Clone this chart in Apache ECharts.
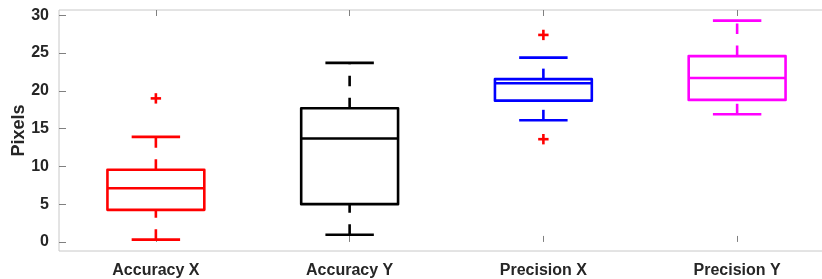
<!DOCTYPE html>
<html>
<head>
<meta charset="utf-8">
<script src="https://cdn.jsdelivr.net/npm/echarts@6/dist/echarts.min.js"></script>
<style>html,body{margin:0;padding:0;background:#fff}#c{width:822px;height:279px}</style>
</head>
<body>
<div id="c"></div>
<script>
var categories = ['Accuracy X', 'Accuracy Y', 'Precision X', 'Precision Y'];
var whiskerLow  = [0.3, 0.95, 16.1, 16.9];
var q1          = [4.25, 5.0, 18.7, 18.8];
var medians     = [7.1, 13.7, 21.0, 21.7];
var q3          = [9.55, 17.7, 21.55, 24.6];
var whiskerHigh = [13.9, 23.7, 24.4, 29.3];
var outlierCat  = [0, 2, 2];
var outlierVal  = [19.0, 27.4, 13.6];
var yTicks      = [0, 5, 10, 15, 20, 25, 30];
var boxColors   = ['#ff0000', '#000000', '#0000ff', '#ff00ff'];

var boxData = categories.map(function (c, i) {
  return [i, whiskerLow[i], q1[i], medians[i], q3[i], whiskerHigh[i]];
});
var outData = outlierCat.map(function (c, i) { return [c, outlierVal[i]]; });

var LW = 2.6;
function renderBox(params, api) {
  var i = api.value(0);
  var band = api.size([1, 0])[0];
  var col = boxColors[i];
  var pLow = api.coord([i, api.value(1)]);
  var pQ1 = api.coord([i, api.value(2)]);
  var pMed = api.coord([i, api.value(3)]);
  var pQ3 = api.coord([i, api.value(4)]);
  var pHigh = api.coord([i, api.value(5)]);
  var cx = pMed[0];
  var bw = band * 0.5, cw = band * 0.25;
  var solid = {stroke: col, lineWidth: LW, fill: null, lineJoin: 'round'};
  var dashed = {stroke: col, lineWidth: LW, lineDash: [10.5, 11.5], lineCap: 'butt'};
  return {
    type: 'group',
    children: [
      {type: 'line', shape: {x1: cx, y1: pLow[1], x2: cx, y2: pQ1[1]}, style: dashed},
      {type: 'line', shape: {x1: cx, y1: pQ3[1], x2: cx, y2: pHigh[1]}, style: dashed},
      {type: 'line', shape: {x1: cx - cw / 2, y1: pLow[1], x2: cx + cw / 2, y2: pLow[1]}, style: solid},
      {type: 'line', shape: {x1: cx - cw / 2, y1: pHigh[1], x2: cx + cw / 2, y2: pHigh[1]}, style: solid},
      {type: 'rect', shape: {x: cx - bw / 2, y: pQ3[1], width: bw, height: pQ1[1] - pQ3[1]}, style: solid},
      {type: 'line', shape: {x1: cx - bw / 2, y1: pMed[1], x2: cx + bw / 2, y2: pMed[1]}, style: solid}
    ]
  };
}
function renderOutlier(params, api) {
  var p = api.coord([api.value(0), api.value(1)]);
  var s = 5.2;
  var st = {stroke: '#ff0000', lineWidth: 2.6};
  return {
    type: 'group',
    children: [
      {type: 'line', shape: {x1: p[0] - s, y1: p[1], x2: p[0] + s, y2: p[1]}, style: st},
      {type: 'line', shape: {x1: p[0], y1: p[1] - s, x2: p[0], y2: p[1] + s}, style: st}
    ]
  };
}

var chart = echarts.init(document.getElementById('c'), null, {renderer: 'canvas'});
chart.setOption({
  animation: false,
  grid: {left: 59, top: 10, width: 775, height: 241, show: true, borderColor: '#c8c8c8', borderWidth: 1, backgroundColor: 'transparent', containLabel: false, outerBoundsMode: 'none'},
  xAxis: [{
    type: 'category', data: categories, position: 'bottom', boundaryGap: true,
    axisLine: {show: false},
    axisTick: {show: true, inside: true, alignWithLabel: true, length: 6, lineStyle: {color: '#808080'}},
    axisLabel: {margin: 12, color: '#262626', fontFamily: 'Liberation Sans', fontWeight: 'bold', fontSize: 16},
    splitLine: {show: false}
  }, {
    type: 'category', data: categories, position: 'top', boundaryGap: true,
    axisLine: {show: false},
    axisTick: {show: true, inside: true, alignWithLabel: true, length: 6, lineStyle: {color: '#808080'}},
    axisLabel: {show: false}, splitLine: {show: false}
  }],
  yAxis: {
    type: 'value', min: -1.2, max: 30.7,
    axisLine: {show: false},
    axisTick: {show: true, inside: true, length: 7, customValues: yTicks, lineStyle: {color: '#808080'}},
    axisLabel: {margin: 10, customValues: yTicks, color: '#262626', fontFamily: 'Liberation Sans', fontWeight: 'bold', fontSize: 16},
    splitLine: {show: false},
    name: 'Pixels', nameLocation: 'middle', nameGap: 31, nameMoveOverlap: false,
    nameTextStyle: {color: '#262626', fontFamily: 'Liberation Sans', fontWeight: 'bold', fontSize: 18}
  },
  series: [{
    type: 'custom', renderItem: renderBox, data: boxData,
    encode: {x: 0, y: [1, 2, 3, 4, 5]}, clip: false
  }, {
    type: 'custom', renderItem: renderOutlier, data: outData,
    encode: {x: 0, y: 1}, clip: false
  }]
});
</script>
</body>
</html>
